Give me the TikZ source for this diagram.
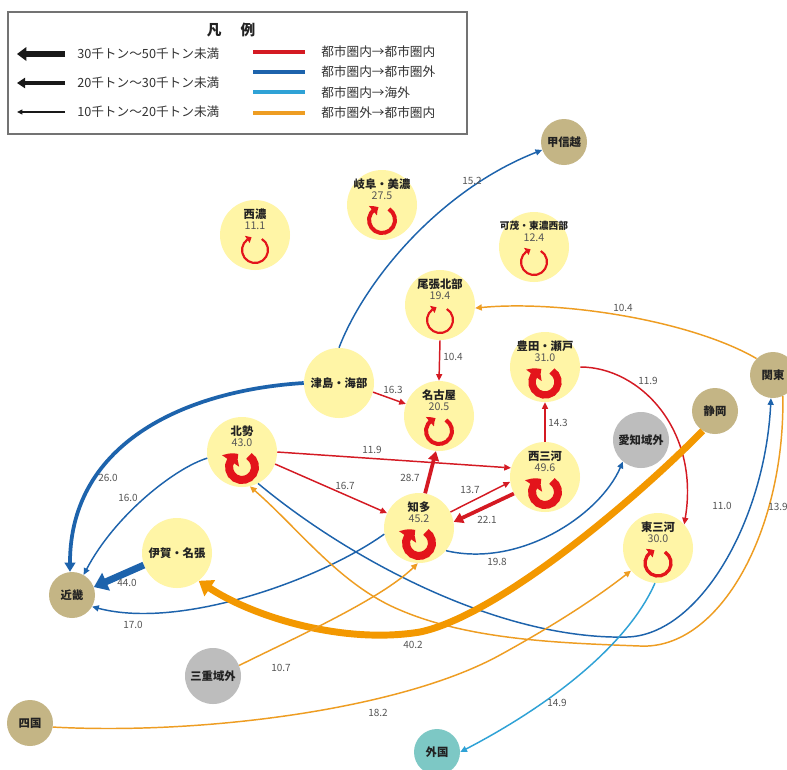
\documentclass[tikz,border=0pt]{standalone}
\usepackage{fontspec}
\setmainfont{Noto Sans CJK JP}
\usetikzlibrary{arrows.meta,calc,bending}
\definecolor{cRed}{HTML}{D41A23}
\definecolor{cBlue}{HTML}{1D63AC}
\definecolor{cLblue}{HTML}{2FA2D6}
\definecolor{cOrange}{HTML}{EE9D22}
\definecolor{cOrangeT}{HTML}{F39800}
\definecolor{cYel}{HTML}{FFF5A6}
\definecolor{cKhaki}{HTML}{C4B585}
\definecolor{cGray}{HTML}{BDBDBD}
\definecolor{cTeal}{HTML}{7DC8C5}
\definecolor{cLoop}{HTML}{E3141B}
\definecolor{cNum}{HTML}{555555}
\definecolor{cTxt}{HTML}{222222}
\tikzset{
  area/.style={circle, inner sep=0pt, minimum size=52.5pt, fill=cYel},
  ext/.style={circle, inner sep=0pt, minimum size=34.5pt, fill=cKhaki},
  gry/.style={circle, inner sep=0pt, minimum size=42pt, fill=cGray},
  sea/.style={circle, inner sep=0pt, minimum size=34.5pt, fill=cTeal},
  nm/.style={font=\fontsize{8.5}{9}\selectfont\bfseries, text=cTxt, inner sep=0pt},
  num/.style={font=\fontsize{8}{9}\selectfont, text=cNum, inner sep=0pt},
  lbl/.style={font=\fontsize{7.5}{9}\selectfont, text=cNum, inner sep=0pt},
  lgtitle/.style={font=\fontsize{11}{12}\selectfont\bfseries, text=cTxt, inner sep=0pt},
  lgtext/.style={font=\fontsize{9.5}{10}\selectfont, text=black!80, inner sep=0pt, anchor=west},
  loopst/.style={draw=cLoop, -{Triangle[bend, length=2pt 1.0, width=3pt 2.0]}},
  fthin/.style={line width=1.1pt, -{Triangle[quick, length=5pt,width=4.5pt]}},
  fmid/.style={line width=2.8pt, -{Triangle[quick, length=7pt,width=8pt]}},
  fthick/.style={line width=5.2pt, -{Triangle[quick, length=10pt,width=14pt]}},
}
\newcommand\AreaNode[6]{%
  \node[area] (#1) at (#2,#3) {};
  \node[nm] (#1-n) at ($(#1)+(0,-21)$) {#4};
  \node[num] (#1-v) at ($(#1)+(0,-9)$) {#5};
  \draw[loopst, line width=#6] ($(#1)+(0,15)+(-58:13)$) arc[start angle=-58, end angle=255, radius=13];
}
\begin{document}
\begin{tikzpicture}[x=0.75pt,y=-0.75pt]
\fill[white] (0,0) rectangle (787,769);
\path[use as bounding box] (0,0) rectangle (787,769);

% ---------- legend ----------
\draw[draw=black!55, line width=0.9pt] (8,12) rectangle (467,134);
\node[lgtitle] (lgt) at (231,30) {凡\hspace{1.3em}例};
\draw[black!90, line width=4pt, -{Triangle[length=7pt,width=10pt]}] (65,54) -- (17,54);
\draw[black!90, line width=2.6pt, -{Triangle[length=6pt,width=7.5pt]}] (65,83) -- (17,83);
\draw[black!90, line width=1pt, -{Triangle[length=4pt,width=3.5pt]}] (65,112) -- (17,112);
\node[lgtext] (lga1) at (77,54) {30千トン～50千トン未満};
\node[lgtext] (lga2) at (77,83) {20千トン～30千トン未満};
\node[lgtext] (lga3) at (77,112) {10千トン～20千トン未満};
\draw[cRed, line width=3pt] (253,52) -- (305,52);
\draw[cBlue, line width=3pt] (253,72) -- (305,72);
\draw[cLblue, line width=3pt] (253,92) -- (305,92);
\draw[cOrange, line width=3pt] (253,113) -- (305,113);
\node[lgtext] (lgc1) at (321,52) {都市圏内→都市圏内};
\node[lgtext] (lgc2) at (321,72) {都市圏内→都市圏外};
\node[lgtext] (lgc3) at (321,93) {都市圏内→海外};
\node[lgtext] (lgc4) at (321,113) {都市圏外→都市圏内};

% ---------- nodes ----------
\AreaNode{seino}{255}{235}{西濃}{11.1}{1.6pt}
\AreaNode{gifu}{382}{205}{岐阜・美濃}{27.5}{3pt}
\node[area] (kamo) at (534,247) {};
\node[nm, font=\fontsize{7.3}{8}\selectfont\bfseries] (kamo-n) at ($(kamo)+(0,-21)$) {可茂・東濃西部};
\node[num] (kamo-v) at ($(kamo)+(0,-9)$) {12.4};
\draw[loopst, line width=1.6pt] ($(kamo)+(0,15)+(-58:13)$) arc[start angle=-58, end angle=255, radius=13];
\AreaNode{owari}{440}{305}{尾張北部}{19.4}{1.6pt}
\AreaNode{nagoya}{439}{416}{名古屋}{20.5}{3pt}
\AreaNode{toyota}{545}{367}{豊田・瀬戸}{31.0}{5.5pt}
\AreaNode{hokusei}{242}{452}{北勢}{43.0}{6pt}
\AreaNode{nishi}{545}{477}{西三河}{49.6}{6pt}
\AreaNode{chita}{419}{528}{知多}{45.2}{6pt}
\AreaNode{higashi}{658}{548}{東三河}{30.0}{2.5pt}
\node[area] (tsushima) at (339,383) {};
\node[nm] (tsushima-n) at (tsushima) {津島・海部};
\node[area] (iga) at (177,553) {};
\node[nm] (iga-n) at (iga) {伊賀・名張};

\node[ext] (koshin) at (564,142) {};
\node[nm] (koshin-n) at (koshin) {甲信越};
\node[ext] (kanto) at (773,375) {};
\node[nm] (kanto-n) at (kanto) {関東};
\node[ext] (shizuoka) at (715,411) {};
\node[nm] (shizuoka-n) at (shizuoka) {静岡};
\node[ext] (kinki) at (72,595) {};
\node[nm] (kinki-n) at (kinki) {近畿};
\node[ext] (shikoku) at (30,723) {};
\node[nm] (shikoku-n) at (shikoku) {四国};
\node[gry] (aichi) at (641,440) {};
\node[nm] (aichi-n) at (aichi) {愛知域外};
\node[gry] (mie) at (213,676) {};
\node[nm] (mie-n) at (mie) {三重域外};
\node[sea] (gaikoku) at (437,752) {};
\node[nm] (gaikoku-n) at (gaikoku) {外国};

% ---------- edges ----------
% blue: within -> outside
\draw[fthin, cBlue] (tsushima.north) .. controls (365,280) and (440,190) .. (koshin.200);
\draw[fmid, cBlue] (tsushima.west) .. controls (190,390) and (70,440) .. (kinki.95);
\draw[fthin, cBlue] (hokusei.190) .. controls (175,468) and (115,515) .. (kinki.60);
\draw[fthick, cBlue] (iga.200) -- (kinki.20);
\draw[fthin, cBlue] (chita.190) .. controls (320,580) and (180,630) .. (kinki.-30);
\draw[fthin, cBlue] (chita.-40) .. controls (520,568) and (600,515) .. (aichi.-130);
\draw[fthin, cBlue] (hokusei.-63) .. controls (350,560) and (500,640) .. (627,637)
   .. controls (700,635) and (765,520) .. (kanto.-95);
% red: within -> within
\draw[fthin, cRed] (tsushima.-15) -- (nagoya.160);
\draw[fthin, cRed] (owari.south) -- (nagoya.north);
\draw[fthin, cRed] (hokusei.0) -- (nishi.165);
\draw[fthin, cRed] (hokusei.-20) -- (chita.155);
\draw[fmid, cRed] (chita.80) -- (nagoya.-95);
\draw[fthin, cRed] (chita.27) -- (nishi.188);
\draw[fmid, cRed] (nishi.208) -- (chita.10);
\draw[fthin, cRed] (nishi.north) -- (toyota.south);
\draw[fthin, cRed] (toyota.0) .. controls (640,367) and (700,430) .. (higashi.42);
% orange: outside -> within
\draw[fthin, cOrange] (kanto.-65) .. controls (785,530) and (720,650) .. (640,646)
   .. controls (560,643) and (470,640) .. (400,610)
   .. controls (340,585) and (300,530) .. (hokusei.-77);
\draw[fthin, cOrange] (kanto.135) .. controls (690,320) and (560,300) .. (owari.-5);
\draw[fthick, cOrangeT] (shizuoka.-122) .. controls (640,495) and (500,615) .. (420,632)
   .. controls (340,645) and (250,615) .. (iga.-52);
\draw[fthin, cOrange] (mie.22) .. controls (290,640) and (380,600) .. (chita.-92);
\draw[fthin, cOrange] (shikoku.-10) .. controls (200,735) and (400,710) .. (500,655)
   .. controls (560,622) and (600,595) .. (higashi.-140);
% light blue: within -> overseas
\draw[fthin, cLblue] (higashi.-95) .. controls (630,640) and (560,700) .. (gaikoku.0);

% ---------- edge labels ----------
\node[lbl] (l01) at (472,181) {15.2};
\node[lbl] (l02) at (108,478) {26.0};
\node[lbl] (l03) at (128,498) {16.0};
\node[lbl] (l04) at (393,390) {16.3};
\node[lbl] (l05) at (453,357) {10.4};
\node[lbl] (l06) at (372,450) {11.9};
\node[lbl] (l07) at (345,486) {16.7};
\node[lbl] (l08) at (410,478) {28.7};
\node[lbl] (l09) at (470,490) {13.7};
\node[lbl] (l10) at (487,520) {22.1};
\node[lbl] (l11) at (558,423) {14.3};
\node[lbl] (l12) at (648,381) {11.9};
\node[lbl] (l13) at (497,562) {19.8};
\node[lbl] (l14) at (127,583) {44.0};
\node[lbl] (l15) at (133,625) {17.0};
\node[lbl] (l16) at (413,645) {40.2};
\node[lbl] (l17) at (281,668) {10.7};
\node[lbl] (l18) at (378,713) {18.2};
\node[lbl] (l19) at (557,703) {14.9};
\node[lbl] (l20) at (623,308) {10.4};
\node[lbl] (l21) at (722,506) {11.0};
\node[lbl] (l22) at (778,507) {13.9};
\end{tikzpicture}
\end{document}
